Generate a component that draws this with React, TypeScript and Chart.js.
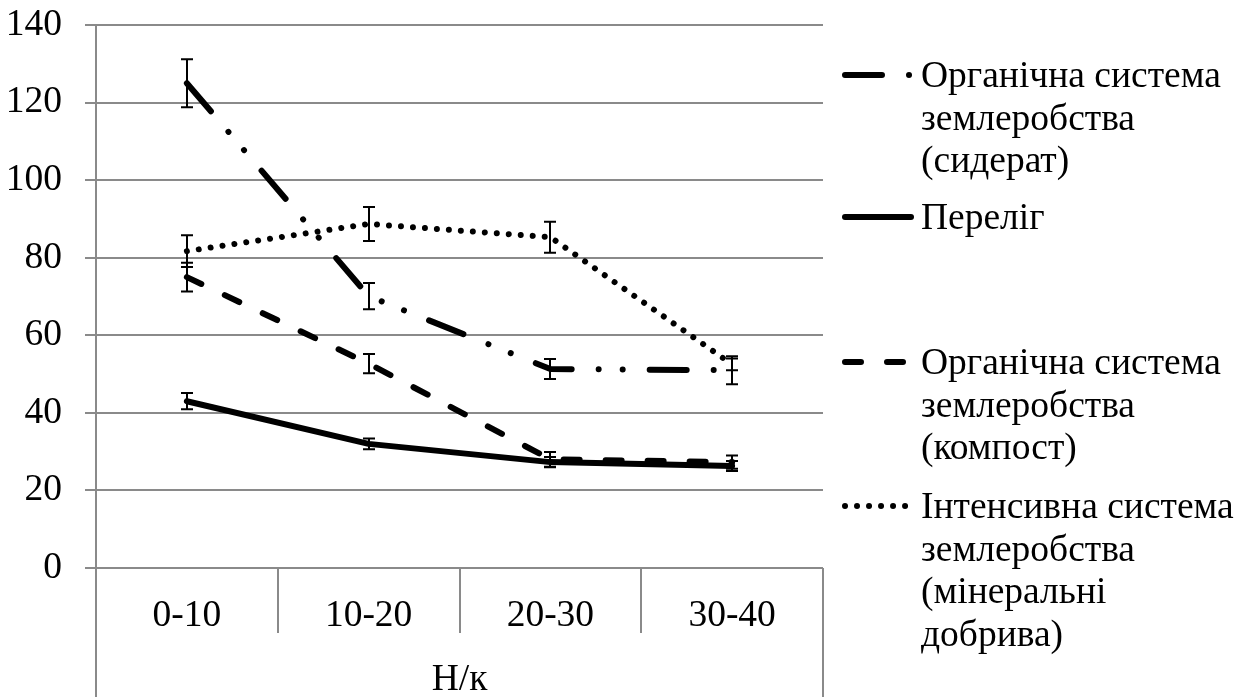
import React, { useEffect, useRef } from 'react';
import { Chart, registerables } from 'chart.js';

Chart.register(...registerables);

// Depth layers (cm) and axis text
const depthLabels = ['0-10', '10-20', '20-30', '30-40'];
const axisTitle = 'Н/к';
const yMin = 0;
const yMax = 140;
const yStep = 20;

// Series means and their error half-widths, one entry per depth layer
const sideratValues = [125, 70.1, 51.3, 51];
const sideratErrors = [6.2, 3.4, 2.6, 3.6];
const fallowValues = [43, 32, 27.3, 26.3];
const fallowErrors = [2.1, 1.4, 1.3, 1.3];
const compostValues = [75, 52.7, 28, 27.3];
const compostErrors = [3.7, 2.5, 1.9, 1.7];
const mineralValues = [81.7, 88.7, 85.3, 52.5];
const mineralErrors = [4.1, 4.4, 4.0, 1.5];

// Series names, as they are wrapped in the legend
const sideratLegend = ['Органічна система', 'землеробства', '(сидерат)'];
const fallowLegend = ['Переліг'];
const compostLegend = ['Органічна система', 'землеробства', '(компост)'];
const mineralLegend = ['Інтенсивна система', 'землеробства', '(мінеральні', 'добрива)'];

const FONT = "'Liberation Serif', 'Times New Roman', serif";
const FONT_SIZE = 37.5;
const FRAME = '#8a8a8a';

// Frame: full-height value axis line and the category separators below the plot
const framePlugin = {
  id: 'excelFrame',
  beforeDatasetsDraw(chart: any) {
    const { ctx, chartArea, scales } = chart;
    const x = scales.x;
    const n = chart.data.labels.length;
    const h = chart.height;
    ctx.save();
    ctx.strokeStyle = FRAME;
    ctx.lineWidth = 2;
    ctx.beginPath();
    ctx.moveTo(chartArea.left, chartArea.top);
    ctx.lineTo(chartArea.left, h);
    ctx.moveTo(chartArea.right, chartArea.bottom);
    ctx.lineTo(chartArea.right, h);
    for (let i = 1; i < n; i++) {
      const bx = Math.round((x.getPixelForTick(i - 1) + x.getPixelForTick(i)) / 2);
      ctx.moveTo(bx, chartArea.bottom);
      ctx.lineTo(bx, chartArea.bottom + 65);
    }
    ctx.stroke();
    ctx.restore();
  },
};

// Vertical error bars with caps for each point
const errorBarPlugin = {
  id: 'errorBars',
  afterDatasetsDraw(chart: any) {
    const { ctx, scales } = chart;
    const y = scales.y;
    ctx.save();
    ctx.strokeStyle = '#000';
    ctx.lineWidth = 2;
    ctx.setLineDash([]);
    chart.data.datasets.forEach((ds: any, di: number) => {
      const meta = chart.getDatasetMeta(di);
      meta.data.forEach((pt: any, i: number) => {
        const v = ds.data[i];
        const e = ds.errors[i];
        const top = y.getPixelForValue(v + e);
        const bot = y.getPixelForValue(v - e);
        const px = Math.round(pt.x);
        ctx.beginPath();
        ctx.moveTo(px, top);
        ctx.lineTo(px, bot);
        ctx.moveTo(px - 6, top);
        ctx.lineTo(px + 6, top);
        ctx.moveTo(px - 6, bot);
        ctx.lineTo(px + 6, bot);
        ctx.stroke();
      });
    });
    ctx.restore();
  },
};

// Legend to the right of the plot, with wrapped series names
const legendBaselines = [87, 229, 374, 518];
const legendLineStep = 42.5;
const sideLegendPlugin = {
  id: 'sideLegend',
  afterDraw(chart: any) {
    const { ctx } = chart;
    chart.data.datasets.forEach((ds: any, i: number) => {
      const base = legendBaselines[i];
      const sy = base - 12;
      ctx.save();
      ctx.strokeStyle = '#000';
      ctx.lineWidth = ds.borderWidth;
      ctx.lineCap = ds.borderCapStyle;
      ctx.setLineDash(ds.borderDash || []);
      ctx.beginPath();
      ctx.moveTo(845, sy);
      ctx.lineTo(911, sy);
      ctx.stroke();
      ctx.setLineDash([]);
      ctx.fillStyle = '#000';
      ctx.font = `${FONT_SIZE}px ${FONT}`;
      ctx.textAlign = 'left';
      ctx.textBaseline = 'alphabetic';
      ds.legendLines.forEach((t: string, k: number) => {
        ctx.fillText(t, 921, base + k * legendLineStep);
      });
      ctx.restore();
    });
  },
};

export default function App() {
  const canvasRef = useRef<HTMLCanvasElement | null>(null);

  useEffect(() => {
    if (!canvasRef.current) return;
    const common = {
      borderColor: '#000',
      backgroundColor: '#000',
      borderWidth: 6,
      pointRadius: 0,
      pointHoverRadius: 0,
      tension: 0,
      fill: false,
      borderJoinStyle: 'round',
    };
    const datasets: any[] = [
      {
        ...common,
        label: sideratLegend.join(' '),
        data: sideratValues,
        errors: sideratErrors,
        legendLines: sideratLegend,
        borderDash: [37, 27, 0.01, 24, 0.01, 27],
        borderCapStyle: 'round',
        order: 4,
      },
      {
        ...common,
        label: fallowLegend.join(' '),
        data: fallowValues,
        errors: fallowErrors,
        legendLines: fallowLegend,
        borderDash: [],
        borderCapStyle: 'round',
        order: 3,
      },
      {
        ...common,
        label: compostLegend.join(' '),
        data: compostValues,
        errors: compostErrors,
        legendLines: compostLegend,
        borderDash: [16, 26],
        borderCapStyle: 'round',
        order: 2,
      },
      {
        ...common,
        label: mineralLegend.join(' '),
        data: mineralValues,
        errors: mineralErrors,
        legendLines: mineralLegend,
        borderDash: [0.01, 12],
        borderCapStyle: 'round',
        order: 1,
      },
    ];

    const chart = new Chart(canvasRef.current, {
      type: 'line',
      data: { labels: depthLabels, datasets },
      options: {
        animation: false,
        responsive: true,
        maintainAspectRatio: false,
        layout: { padding: { top: 25, right: 425, bottom: 0, left: 0 } },
        plugins: {
          legend: { display: false },
          tooltip: { enabled: false },
          title: { display: false },
        },
        scales: {
          x: {
            type: 'category',
            offset: true,
            grid: { display: false, drawTicks: false },
            border: { display: false },
            ticks: {
              color: '#000',
              padding: 26,
              font: { family: FONT, size: FONT_SIZE },
              maxRotation: 0,
              autoSkip: false,
            },
            title: {
              display: true,
              text: axisTitle,
              color: '#000',
              font: { family: FONT, size: FONT_SIZE, lineHeight: 1 },
              padding: { top: 0, bottom: -2 },
            },
            afterFit(scale: any) {
              scale.height = 129;
              scale.paddingLeft = 0;
              scale.paddingRight = 0;
            },
          },
          y: {
            min: yMin,
            max: yMax,
            grid: { color: FRAME, lineWidth: 2, tickLength: 11, drawTicks: true },
            border: { display: false },
            ticks: {
              stepSize: yStep,
              color: '#000',
              padding: 23,
              font: { family: FONT, size: FONT_SIZE },
            },
            afterFit(scale: any) {
              scale.width = 96;
              scale.paddingTop = 0;
              scale.paddingBottom = 0;
            },
          },
        },
      },
      plugins: [framePlugin, errorBarPlugin, sideLegendPlugin],
    } as any);

    return () => chart.destroy();
  }, []);

  return (
    <div style={{ position: 'absolute', left: 0, top: 0, width: 1248, height: 697, background: '#fff' }}>
      <canvas ref={canvasRef} />
    </div>
  );
}
